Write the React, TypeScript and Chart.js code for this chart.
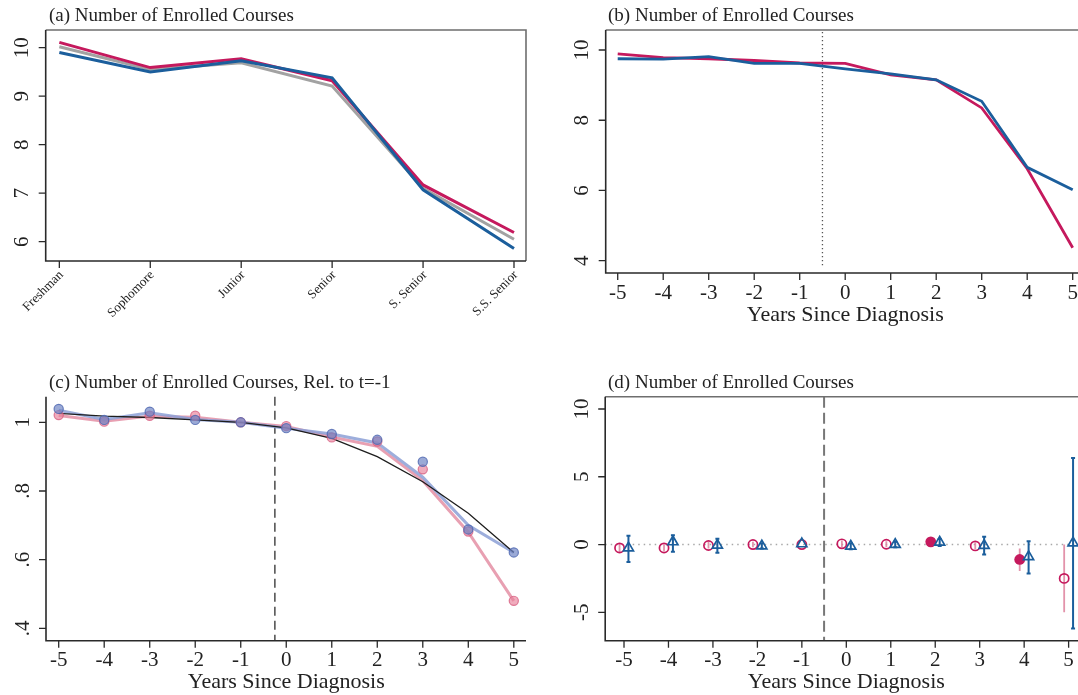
import React, { useEffect, useRef } from "react";
import { Chart, registerables } from "chart.js";

Chart.register(...registerables);

const W = 1078;
const H = 695;
const SERIF = '"Liberation Serif", "Times New Roman", Times, serif';

const CRANBERRY = "#c5195d";
const NAVY = "#1b5e9c";
const GREY = "#a2a2a2";

// (a) courses by class standing
const classLabels = ["Freshman", "Sophomore", "Junior", "Senior", "S. Senior", "S.S. Senior"];
const classDiagnosed = [10.11, 9.59, 9.77, 9.32, 7.17, 6.19];
const classAll = [10.02, 9.55, 9.69, 9.21, 7.1, 6.05];
const classControl = [9.9, 9.5, 9.73, 9.38, 7.07, 5.86];
const classTicksY = [6, 7, 8, 9, 10];

// (b) courses around diagnosis
const years = [-5, -4, -3, -2, -1, 0, 1, 2, 3, 4, 5];
const coursesTreated = [9.89, 9.78, 9.75, 9.7, 9.63, 9.62, 9.29, 9.15, 8.35, 6.62, 4.37];
const coursesComparison = [9.75, 9.74, 9.81, 9.62, 9.62, 9.46, 9.32, 9.15, 8.54, 6.66, 6.02];
const coursesTicksY = [4, 6, 8, 10];

// (c) relative to t = -1
const relTreatedPts = [1.021, 1.002, 1.019, 1.019, 1.0, 0.989, 0.956, 0.944, 0.863, 0.682, 0.48];
const relTreatedFit = [1.02, 1.003, 1.018, 1.015, 1.0, 0.988, 0.957, 0.93, 0.83, 0.68, 0.48];
const relComparisonPts = [1.039, 1.007, 1.031, 1.007, 1.0, 0.983, 0.966, 0.949, 0.885, 0.688, 0.621];
const relComparisonFit = [1.035, 1.008, 1.028, 1.008, 1.0, 0.983, 0.966, 0.94, 0.84, 0.7, 0.621];
const relCounterfactual = [1.026, 1.018, 1.014, 1.007, 1.0, 0.984, 0.953, 0.9, 0.827, 0.735, 0.621];
const relTicksY = [0.4, 0.6, 0.8, 1];
const relTickLabels = [".4", ".6", ".8", "1"];

// (d) event-study estimates with confidence intervals
const estTreated = [-0.25, -0.25, -0.07, 0.0, 0.0, 0.05, 0.02, 0.2, -0.1, -1.1, -2.5];
const estTreatedLo = [-0.55, -0.5, -0.3, -0.2, 0.0, -0.2, -0.2, 0.0, -0.35, -1.95, -5.0];
const estTreatedHi = [0.05, 0.0, 0.2, 0.2, 0.0, 0.3, 0.25, 0.4, 0.15, -0.3, 0.0];
const estTreatedSignificant = [false, false, false, false, false, false, false, true, false, true, false];
const estComparison = [-0.25, 0.2, -0.05, -0.1, 0.05, -0.12, 0.0, 0.17, -0.07, -0.9, 0.12];
const estComparisonLo = [-1.28, -0.54, -0.61, -0.3, 0.05, -0.35, -0.2, -0.1, -0.74, -2.14, -6.19];
const estComparisonHi = [0.64, 0.69, 0.42, 0.1, 0.05, 0.1, 0.2, 0.4, 0.57, 0.25, 6.39];
const estTicksY = [-5, 0, 5, 10];

const REF_YEAR = -1;
const DODGE = 0.1;
const dodge = (t: number, side: number) => (t === REF_YEAR ? t : t + side * DODGE);

const pts = (xs: number[], ys: number[]) => xs.map((x, i) => ({ x, y: ys[i] }));

type Area = { l: number; t: number; r: number; b: number };

type AxisSpec = {
  xTicks: number[];
  xLabel: (v: number, i: number) => string;
  xRotated?: boolean;
  yTicks: number[];
  yLabel: (v: number, i: number) => string;
  boxTop: boolean;
  boxRight: boolean;
  title: string;
  titleX: number;
  titleY: number;
  xTitle?: string;
  under?: (chart: any) => void;
};

function drawAxes(chart: any, s: AxisSpec) {
  const { ctx, chartArea: a } = chart;
  const xs = chart.scales.x;
  const ys = chart.scales.y;
  ctx.save();
  ctx.lineCap = "butt";
  if (s.boxTop) {
    ctx.strokeStyle = "#6e6e6e";
    ctx.lineWidth = 1.6;
    ctx.beginPath();
    ctx.moveTo(a.left, a.top);
    ctx.lineTo(a.right, a.top);
    if (s.boxRight) ctx.lineTo(a.right, a.bottom);
    ctx.stroke();
  }
  ctx.strokeStyle = "#2a2a2a";
  ctx.lineWidth = 1.6;
  ctx.beginPath();
  ctx.moveTo(a.left, a.top);
  ctx.lineTo(a.left, a.bottom);
  ctx.lineTo(a.right, a.bottom);
  ctx.stroke();

  ctx.lineWidth = 1.3;
  ctx.beginPath();
  s.yTicks.forEach((v) => {
    const y = ys.getPixelForValue(v);
    ctx.moveTo(a.left, y);
    ctx.lineTo(a.left - 7, y);
  });
  s.xTicks.forEach((v) => {
    const x = xs.getPixelForValue(v);
    ctx.moveTo(x, a.bottom);
    ctx.lineTo(x, a.bottom + 7);
  });
  ctx.stroke();

  ctx.fillStyle = "#222";
  ctx.font = `21px ${SERIF}`;
  ctx.textAlign = "center";
  ctx.textBaseline = "middle";
  s.yTicks.forEach((v, i) => {
    const y = ys.getPixelForValue(v);
    ctx.save();
    ctx.translate(a.left - 23, y);
    ctx.rotate(-Math.PI / 2);
    ctx.fillText(s.yLabel(v, i), 0, 0);
    ctx.restore();
  });

  if (s.xRotated) {
    ctx.font = `13px ${SERIF}`;
    ctx.textAlign = "right";
    s.xTicks.forEach((v, i) => {
      const x = xs.getPixelForValue(v);
      ctx.save();
      ctx.translate(x + 2, a.bottom + 12);
      ctx.rotate(-Math.PI / 4);
      ctx.fillText(s.xLabel(v, i), 0, 0);
      ctx.restore();
    });
  } else {
    s.xTicks.forEach((v, i) => {
      ctx.fillText(s.xLabel(v, i), xs.getPixelForValue(v), a.bottom + 20);
    });
  }

  if (s.xTitle) {
    ctx.font = `22px ${SERIF}`;
    ctx.textAlign = "center";
    ctx.fillText(s.xTitle, xs.getPixelForValue(0), a.bottom + 42);
  }

  ctx.font = `19px ${SERIF}`;
  ctx.textAlign = "left";
  ctx.textBaseline = "alphabetic";
  ctx.fillStyle = "#222";
  ctx.fillText(s.title, s.titleX, s.titleY);
  ctx.restore();
}

function makeConfig(area: Area, xr: [number, number], yr: [number, number], datasets: any[], spec: AxisSpec) {
  return {
    type: "line",
    data: { datasets },
    options: {
      responsive: false,
      animation: false,
      devicePixelRatio: 1,
      events: [],
      layout: {
        autoPadding: false,
        padding: { left: area.l, top: area.t, right: W - area.r, bottom: H - area.b },
      },
      plugins: { legend: { display: false }, tooltip: { enabled: false }, title: { display: false } },
      scales: {
        x: { type: "linear", display: false, min: xr[0], max: xr[1] },
        y: { type: "linear", display: false, min: yr[0], max: yr[1] },
      },
    },
    plugins: [
      {
        id: "stataFrame",
        beforeDatasetsDraw(chart: any) {
          if (spec.under) spec.under(chart);
        },
        afterDatasetsDraw(chart: any) {
          drawAxes(chart, spec);
        },
      },
    ],
  };
}

const lineDs = (data: any[], color: string, width: number, order: number) => ({
  data,
  borderColor: color,
  backgroundColor: color,
  borderWidth: width,
  pointRadius: 0,
  tension: 0,
  fill: false,
  order,
});

function vLine(chart: any, xv: number, color: string, width: number, dash: number[], topPad = 0, botPad = 0) {
  const { ctx, chartArea: a } = chart;
  const x = chart.scales.x.getPixelForValue(xv);
  ctx.save();
  ctx.strokeStyle = color;
  ctx.lineWidth = width;
  ctx.setLineDash(dash);
  ctx.beginPath();
  ctx.moveTo(x, a.top + topPad);
  ctx.lineTo(x, a.bottom - botPad);
  ctx.stroke();
  ctx.restore();
}

function configA() {
  const idx = classLabels.map((_, i) => i);
  return makeConfig(
    { l: 45.7, t: 30, r: 526, b: 261 },
    [-0.15, 5.132],
    [5.602, 10.365],
    [
      lineDs(pts(idx, classControl), NAVY, 3, 0),
      lineDs(pts(idx, classDiagnosed), CRANBERRY, 3, 1),
      lineDs(pts(idx, classAll), GREY, 3, 2),
    ],
    {
      xTicks: idx,
      xLabel: (_v, i) => classLabels[i],
      xRotated: true,
      yTicks: classTicksY,
      yLabel: (v) => String(v),
      boxTop: true,
      boxRight: true,
      title: "(a) Number of Enrolled Courses",
      titleX: 49,
      titleY: 21,
    }
  );
}

function configB() {
  return makeConfig(
    { l: 605.7, t: 30, r: 1078, b: 273 },
    [-5.264, 5.1165],
    [3.65, 10.569],
    [
      lineDs(pts(years, coursesComparison), NAVY, 2.8, 0),
      lineDs(pts(years, coursesTreated), CRANBERRY, 2.8, 1),
    ],
    {
      xTicks: years,
      xLabel: (v) => String(v),
      yTicks: coursesTicksY,
      yLabel: (v) => String(v),
      boxTop: true,
      boxRight: false,
      title: "(b) Number of Enrolled Courses",
      titleX: 608,
      titleY: 21,
      xTitle: "Years Since Diagnosis",
      under: (chart) => vLine(chart, -0.5, "#555", 1.3, [1.2, 2.8], 2, 5),
    }
  );
}

function configC() {
  const markers = (data: number[], fill: string, stroke: string, order: number) => ({
    data: pts(years, data),
    showLine: false,
    pointRadius: 4.6,
    pointBorderWidth: 1.2,
    pointBackgroundColor: fill,
    pointBorderColor: stroke,
    borderColor: stroke,
    backgroundColor: fill,
    order,
  });
  return makeConfig(
    { l: 46, t: 396.7, r: 526, b: 640.7 },
    [-5.279, 5.268],
    [0.3639, 1.0746],
    [
      markers(relComparisonPts, "rgba(112,134,196,0.7)", "rgba(78,102,176,0.8)", 0),
      markers(relTreatedPts, "rgba(232,128,154,0.65)", "rgba(214,88,124,0.75)", 1),
      lineDs(pts(years, relCounterfactual), "#1e1e1e", 1.3, 2),
      lineDs(pts(years, relComparisonFit), "rgba(140,160,214,0.85)", 3, 3),
      lineDs(pts(years, relTreatedFit), "rgba(230,150,170,0.9)", 3, 4),
    ],
    {
      xTicks: years,
      xLabel: (v) => String(v),
      yTicks: relTicksY,
      yLabel: (_v, i) => relTickLabels[i],
      boxTop: false,
      boxRight: false,
      title: "(c) Number of Enrolled Courses, Rel. to t=-1",
      titleX: 49,
      titleY: 388,
      xTitle: "Years Since Diagnosis",
      under: (chart) => vLine(chart, -0.25, "#4a4a4a", 1.5, [9, 5]),
    }
  );
}

function configD() {
  const tx = years.map((t) => dodge(t, -1));
  const cx = years.map((t) => dodge(t, 1));
  const hollowIdx = years.map((_, i) => i).filter((i) => !estTreatedSignificant[i]);
  const filledIdx = years.map((_, i) => i).filter((i) => estTreatedSignificant[i]);
  const sub = (idx: number[]) => idx.map((i) => ({ x: tx[i], y: estTreated[i] }));

  const intervals = (chart: any) => {
    const { ctx, chartArea: a } = chart;
    const xs = chart.scales.x;
    const ys = chart.scales.y;
    // zero reference line
    ctx.save();
    ctx.strokeStyle = "#a8a8a8";
    ctx.lineWidth = 1.5;
    ctx.setLineDash([1.5, 4]);
    ctx.beginPath();
    ctx.moveTo(a.left, ys.getPixelForValue(0));
    ctx.lineTo(a.right, ys.getPixelForValue(0));
    ctx.stroke();
    ctx.restore();
    vLine(chart, -0.5, "#777", 2, [11, 5]);

    ctx.save();
    ctx.strokeStyle = "rgba(222,128,156,0.85)";
    ctx.lineWidth = 1.8;
    ctx.beginPath();
    years.forEach((_, i) => {
      if (estTreatedHi[i] === estTreatedLo[i]) return;
      const x = xs.getPixelForValue(tx[i]);
      ctx.moveTo(x, ys.getPixelForValue(estTreatedHi[i]));
      ctx.lineTo(x, ys.getPixelForValue(estTreatedLo[i]));
    });
    ctx.stroke();
    ctx.strokeStyle = NAVY;
    ctx.lineWidth = 2;
    ctx.beginPath();
    years.forEach((_, i) => {
      if (estComparisonHi[i] === estComparisonLo[i]) return;
      const x = xs.getPixelForValue(cx[i]);
      const yh = ys.getPixelForValue(estComparisonHi[i]);
      const yl = ys.getPixelForValue(estComparisonLo[i]);
      ctx.moveTo(x, yh);
      ctx.lineTo(x, yl);
      ctx.moveTo(x - 2, yh);
      ctx.lineTo(x + 2, yh);
      ctx.moveTo(x - 2, yl);
      ctx.lineTo(x + 2, yl);
    });
    ctx.stroke();
    ctx.restore();
  };

  return makeConfig(
    { l: 605.2, t: 396.7, r: 1078, b: 640.7 },
    [-5.423, 5.211],
    [-7.095, 10.908],
    [
      {
        data: pts(cx, estComparison),
        showLine: false,
        pointStyle: "triangle",
        pointRadius: 5.8,
        pointBorderWidth: 1.7,
        pointBorderColor: NAVY,
        pointBackgroundColor: "rgba(255,255,255,0)",
        order: 0,
      },
      {
        data: sub(hollowIdx),
        showLine: false,
        pointRadius: 4.6,
        pointBorderWidth: 1.7,
        pointBorderColor: CRANBERRY,
        pointBackgroundColor: "rgba(255,255,255,0)",
        order: 1,
      },
      {
        data: sub(filledIdx),
        showLine: false,
        pointRadius: 5.4,
        pointBorderWidth: 0,
        pointBorderColor: CRANBERRY,
        pointBackgroundColor: CRANBERRY,
        order: 2,
      },
    ],
    {
      xTicks: years,
      xLabel: (v) => String(v),
      yTicks: estTicksY,
      yLabel: (v) => String(v),
      boxTop: true,
      boxRight: false,
      title: "(d) Number of Enrolled Courses",
      titleX: 608,
      titleY: 388,
      xTitle: "Years Since Diagnosis",
      under: intervals,
    }
  );
}

function Panel({ build }: { build: () => any }) {
  const ref = useRef<HTMLCanvasElement>(null);
  useEffect(() => {
    const chart = new Chart(ref.current as HTMLCanvasElement, build() as any);
    return () => chart.destroy();
  }, [build]);
  return (
    <canvas
      ref={ref}
      width={W}
      height={H}
      style={{ position: "absolute", left: 0, top: 0, width: W, height: H }}
    />
  );
}

export default function App() {
  return (
    <div
      style={{
        position: "fixed",
        left: 0,
        top: 0,
        width: W,
        height: H,
        background: "#fff",
        overflow: "hidden",
      }}
    >
      <Panel build={configA} />
      <Panel build={configB} />
      <Panel build={configC} />
      <Panel build={configD} />
    </div>
  );
}
